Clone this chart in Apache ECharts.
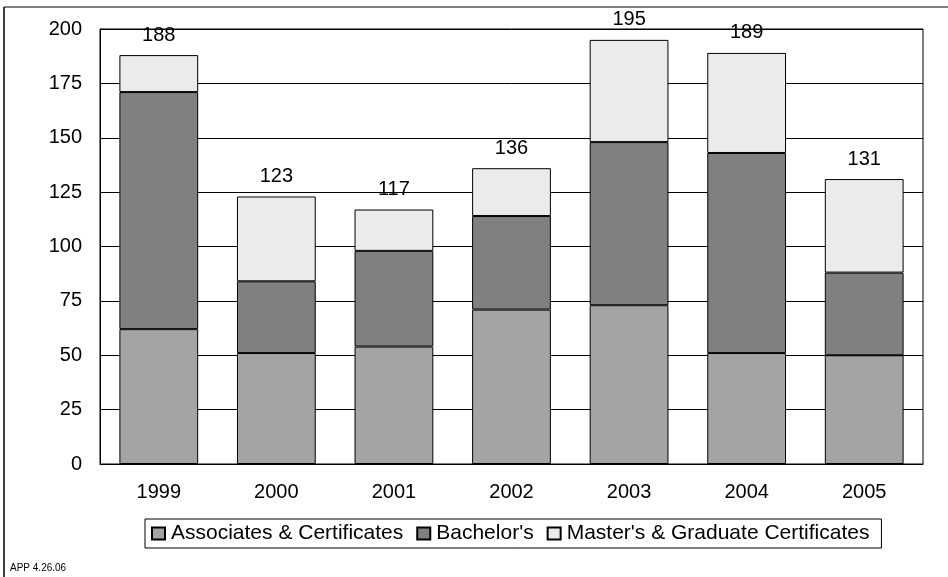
<!DOCTYPE html>
<html>
<head>
<meta charset="utf-8">
<script src="https://cdn.jsdelivr.net/npm/echarts@6/dist/echarts.min.js"></script>
<style>
  html, body { margin: 0; padding: 0; background: #fff; }
  #chart { width: 948px; height: 577px; }
</style>
</head>
<body>
<div id="chart"></div>
<script>
const years = ['1999', '2000', '2001', '2002', '2003', '2004', '2005']
const associates = [62, 51, 54, 71, 73, 51, 50]
const bachelors = [109, 33, 44, 43, 75, 92, 38]
const masters = [17, 39, 19, 22, 47, 46, 43]
const totals = [188, 123, 117, 136, 195, 189, 131]
const yTicks = [0, 25, 50, 75, 100, 125, 150, 175, 200]

const chart = echarts.init(document.getElementById('chart'))
const font = 'Liberation Sans, Arial, sans-serif'

const barStyle = (color) => ({ color: color, borderColor: '#000', borderWidth: 1 })

const option = {
  animation: false,
  textStyle: { fontFamily: font },
  grid: { left: 100, right: 25, top: 29, bottom: 113, show: true, borderColor: '#000', borderWidth: 1 },
  legend: {
    left: 145,
    top: 519,
    orient: 'horizontal',
    icon: 'rect',
    itemWidth: 13,
    itemHeight: 12,
    itemGap: 13,
    padding: [4, 12, 4, 6],
    borderColor: '#000',
    borderWidth: 1,
    textStyle: { color: '#000', fontSize: 21, fontFamily: font, padding: [0, 0, 0, 1] },
    data: ['Associates & Certificates', "Bachelor's", "Master's & Graduate Certificates"]
  },
  xAxis: {
    type: 'category',
    data: years,
    axisLine: { lineStyle: { color: '#000', width: 1 } },
    axisTick: { show: false },
    axisLabel: { color: '#000', fontSize: 20, margin: 18 }
  },
  yAxis: {
    type: 'value',
    min: yTicks[0],
    max: yTicks[yTicks.length - 1],
    interval: 25,
    axisLine: { show: true, lineStyle: { color: '#000' } },
    axisTick: { show: false },
    axisLabel: { color: '#000', fontSize: 20, margin: 18 },
    splitLine: { lineStyle: { color: '#000', width: 1 } }
  },
  series: [
    {
      name: 'Associates & Certificates',
      type: 'bar',
      stack: 'total',
      barWidth: '67%',
      data: associates,
      itemStyle: barStyle('#a4a4a4')
    },
    {
      name: "Bachelor's",
      type: 'bar',
      stack: 'total',
      data: bachelors,
      itemStyle: barStyle('#808080')
    },
    {
      name: "Master's & Graduate Certificates",
      type: 'bar',
      stack: 'total',
      data: masters,
      itemStyle: barStyle('#ebebeb'),
      label: {
        show: true,
        position: 'top',
        distance: 10,
        color: '#000',
        fontSize: 20,
        formatter: (p) => totals[p.dataIndex]
      }
    }
  ],
  graphic: [
    { type: 'line', shape: { x1: 4, y1: 7, x2: 948, y2: 7 }, style: { stroke: '#000', lineWidth: 1 } },
    { type: 'line', shape: { x1: 4, y1: 7, x2: 4, y2: 577 }, style: { stroke: '#000', lineWidth: 1.5 } },
    { type: 'text', left: 10, top: 563, style: { text: 'APP 4.26.06', fill: '#000', font: '10px ' + font } }
  ]
}

chart.setOption(option)
</script>
</body>
</html>
